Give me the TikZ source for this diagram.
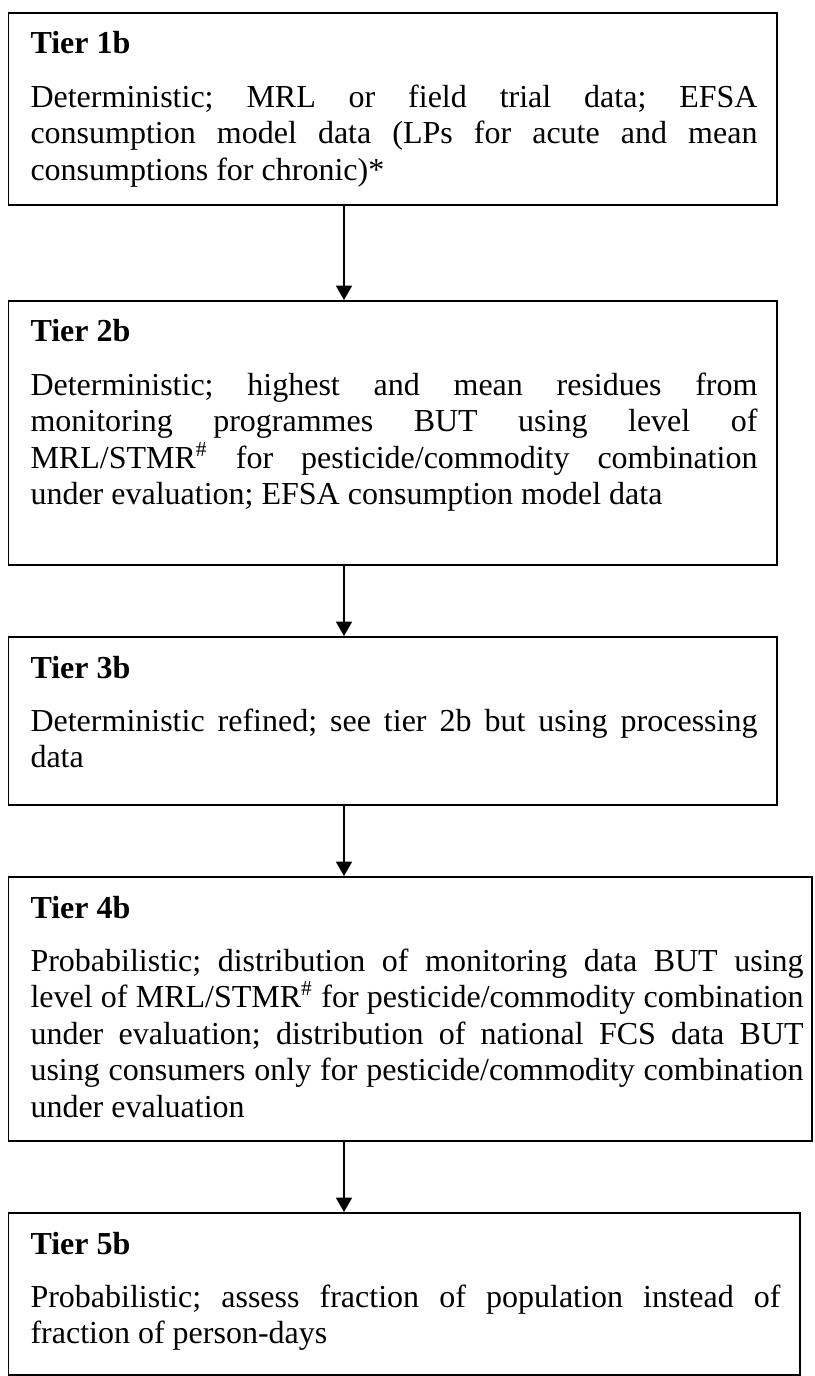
\documentclass[tikz,border=0pt]{standalone}
\usepackage{fontspec}
\setmainfont{Liberation Serif}
\usetikzlibrary{arrows.meta,fit}
\frenchspacing
\newcommand\jline[1]{\noindent\makebox[\linewidth][s]{#1}\par}
\newcommand\lastline[1]{\noindent #1\par}
\tikzset{
  box/.style={draw=black, line width=0.7pt, inner sep=0pt, rectangle},
  txt/.style={anchor=base west, inner sep=0pt, align=left},
  arr/.style={draw=black, line width=0.55pt, -{Triangle[width=6pt,length=5.4pt]}},
}
\newcommand\tierbody[3]{\begin{minipage}[t]{#1}\fontsize{12}{13.7}\selectfont\frenchspacing\textbf{#2}\par\vspace{6.2pt}#3\end{minipage}}
\begin{document}
\begin{tikzpicture}[x=0.375pt,y=-0.375pt]
\useasboundingbox (0,0) rectangle (814,1376);
\coordinate (ax) at (344,0);
% boxes
\node[box, fit={(8.5,13) (777,205)}] (b1) {};
\node[box, fit={(8.5,301) (777,565)}] (b2) {};
\node[box, fit={(8.5,637) (777,805)}] (b3) {};
\node[box, fit={(8.5,877) (812,1141)}] (b4) {};
\node[box, fit={(8.5,1213) (800,1375)}] (b5) {};
% texts
\node[txt] (t1) at (30,54) {\tierbody{272.6pt}{Tier 1b}{%
\jline{Deterministic; MRL or field trial data; EFSA}
\jline{consumption model data (LPs for acute and mean}
\lastline{consumptions for chronic)*}}};
\node[txt] (t2) at (30,342) {\tierbody{272.6pt}{Tier 2b}{%
\jline{Deterministic; highest and mean residues from}
\jline{monitoring programmes BUT using level of}
\jline{MRL/STMR\textsuperscript{\#} for pesticide/commodity combination}
\lastline{under evaluation; EFSA consumption model data}}};
\node[txt] (t3) at (30,678) {\tierbody{272.6pt}{Tier 3b}{%
\jline{Deterministic refined; see tier 2b but using processing}
\lastline{data}}};
\node[txt] (t4) at (30,918) {\tierbody{289.9pt}{Tier 4b}{%
\jline{Probabilistic; distribution of monitoring data BUT using}
\jline{level of MRL/STMR\textsuperscript{\#} for pesticide/commodity combination}
\jline{under evaluation; distribution of national FCS data BUT}
\jline{using consumers only for pesticide/commodity combination}
\lastline{under evaluation}}};
\node[txt] (t5) at (30,1254) {\tierbody{281.25pt}{Tier 5b}{%
\jline{Probabilistic; assess fraction of population instead of}
\lastline{fraction of person-days}}};
% arrows
\draw[arr] (b1.south -| ax) -- (b2.north -| ax);
\draw[arr] (b2.south -| ax) -- (b3.north -| ax);
\draw[arr] (b3.south -| ax) -- (b4.north -| ax);
\draw[arr] (b4.south -| ax) -- (b5.north -| ax);
\end{tikzpicture}
\end{document}
